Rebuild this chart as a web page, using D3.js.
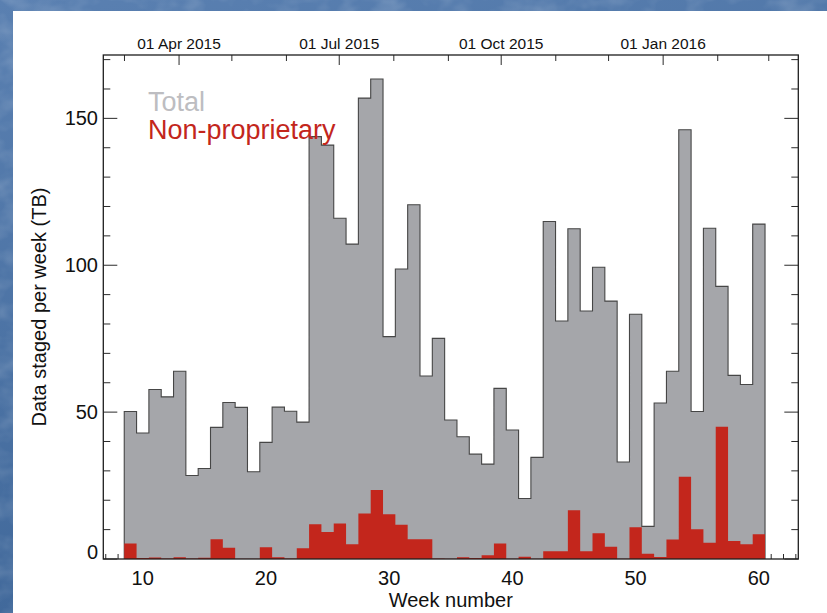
<!DOCTYPE html>
<html>
<head>
<meta charset="utf-8">
<script src="https://cdn.jsdelivr.net/npm/d3@7"></script>
<style>
  html, body { margin: 0; padding: 0; background: #4a70a2; }
  svg { display: block; }
  text { font-family: "Liberation Sans", Arial, Helvetica, sans-serif; }
</style>
</head>
<body>
<svg id="chart" width="827" height="613"></svg>
<script>
// Week numbers (one bar per week)
const weeks = [9, 10, 11, 12, 13, 14, 15, 16, 17, 18, 19, 20, 21, 22, 23, 24, 25, 26, 27, 28,
  29, 30, 31, 32, 33, 34, 35, 36, 37, 38, 39, 40, 41, 42, 43, 44, 45, 46, 47, 48,
  49, 50, 51, 52, 53, 54, 55, 56, 57, 58, 59, 60];

// Total data staged per week (TB)
const totalTB = [50.2, 42.9, 57.7, 55.2, 63.9, 28.4, 30.8, 44.8, 53.3, 51.6, 29.7, 39.7, 51.7, 50.3, 46.6,
  143.8, 140.9, 116.0, 107.2, 156.9, 163.4, 75.7, 98.7, 120.6, 62.3, 75.1,
  47.3, 41.6, 35.7, 32.3, 58.1, 43.9, 20.6, 34.6,
  114.9, 81.0, 112.4, 84.4, 99.3, 87.8, 33.0, 83.3, 11.1, 53.1, 63.9, 146.1, 50.2, 112.6, 92.8, 62.5, 59.4, 114.0];

// Non-proprietary part of it (TB)
const nonPropTB = [5.3, 0.3, 0.5, 0.2, 0.6, 0.2, 0.4, 6.7, 3.8, 0.1, 0.1, 4.0, 0.6, 0.2, 3.7,
  11.8, 9.2, 12.1, 5.0, 15.5, 23.5, 15.2, 11.7, 6.7, 6.7, 0.2,
  0.1, 0.6, 0.3, 1.3, 5.3, 0.1, 0.8, 0.1,
  2.6, 2.6, 16.6, 2.6, 8.8, 4.2, 0.1, 10.8, 1.8, 0.7, 6.6, 28.0, 10.1, 5.5, 45.0, 6.1, 5.0, 8.4];

const seriesNames = ["Total", "Non-proprietary"];
const yMajorTicks = [0, 50, 100, 150];
const xMajorTicks = [10, 20, 30, 40, 50, 60];
const xTitle = "Week number";
const yTitle = "Data staged per week (TB)";

const W = 827, H = 613;
const frame = { left: 103.3, right: 798.3, top: 55, bottom: 559 };
const svg = d3.select("#chart");

// ---- slide background with a soft water-like texture ----
const defs = svg.append("defs");
const grad = defs.append("linearGradient").attr("id", "bgGrad")
  .attr("x1", 0).attr("y1", 0).attr("x2", 0.3).attr("y2", 1);
grad.append("stop").attr("offset", "0%").attr("stop-color", "#5a80b1");
grad.append("stop").attr("offset", "100%").attr("stop-color", "#3f6799");
const tex = defs.append("filter").attr("id", "water")
  .attr("x", 0).attr("y", 0).attr("width", "100%").attr("height", "100%");
tex.append("feTurbulence").attr("type", "fractalNoise")
  .attr("baseFrequency", "0.035 0.05").attr("numOctaves", 3).attr("seed", 7).attr("result", "n");
tex.append("feColorMatrix").attr("type", "matrix")
  .attr("values", "0 0 0 0 1  0 0 0 0 1  0 0 0 0 1  0 0 0 0.9 -0.35");
svg.append("rect").attr("width", W).attr("height", H).attr("fill", "url(#bgGrad)");
svg.append("rect").attr("width", W).attr("height", H).attr("filter", "url(#water)").attr("opacity", 0.35);

// white panel
svg.append("rect").attr("x", 13).attr("y", 11).attr("width", W - 13).attr("height", H - 11)
  .attr("fill", "#ffffff");

// ---- scales ----
const x = d3.scaleLinear().domain([6.8, 63.2]).range([frame.left, frame.right]);
const y = d3.scaleLinear().domain([0, d3.max(totalTB) * 1.05]).range([frame.bottom, frame.top]);

// calendar dates aligned with week numbers (week 0.09 = 1 Jan 2015)
const t0 = Date.UTC(2015, 0, 1);
const weekOfDate = d => 0.09 + (d - t0) / (7 * 864e5);
const dateOfWeek = w => new Date(t0 + (w - 0.09) * 7 * 864e5);
const xt = d3.scaleUtc().domain(x.domain().map(dateOfWeek)).range(x.range());

// step outline points for a series
const stepPoints = vals => weeks.flatMap((w, i) => [[w - 0.5, vals[i]], [w + 0.5, vals[i]]]);

const area = d3.area().x(d => x(d[0])).y0(y(0)).y1(d => y(d[1]));
const line = d3.line().x(d => x(d[0])).y(d => y(d[1]));

const plot = svg.append("g");

// total (grey histogram)
const totalPts = stepPoints(totalTB);
plot.append("path").attr("d", area(totalPts)).attr("fill", "#a5a6aa");
plot.append("path")
  .attr("d", line([[weeks[0] - 0.5, 0], ...totalPts, [weeks[weeks.length - 1] + 0.5, 0]]))
  .attr("fill", "none").attr("stroke", "#464646").attr("stroke-width", 1.1);

// ---- axes ticks ----
const axes = svg.append("g").attr("stroke", "#2a2a2a").attr("stroke-width", 1);

// y ticks: minor every 10, major every 50, on both sides pointing inward
const yMinor = d3.range(0, y.domain()[1], 10);
yMinor.forEach(v => {
  const len = yMajorTicks.includes(v) ? 14 : 7;
  axes.append("line").attr("x1", frame.left).attr("x2", frame.left + len)
    .attr("y1", y(v)).attr("y2", y(v));
  axes.append("line").attr("x1", frame.right).attr("x2", frame.right - len)
    .attr("y1", y(v)).attr("y2", y(v));
});

// bottom ticks: minor every week, major every 10
d3.range(Math.ceil(x.domain()[0]), Math.floor(x.domain()[1]) + 1).forEach(w => {
  const len = xMajorTicks.includes(w) ? 10 : 5;
  axes.append("line").attr("x1", x(w)).attr("x2", x(w))
    .attr("y1", frame.bottom).attr("y2", frame.bottom - len);
});

// top ticks: every month, labelled every quarter
const months = xt.ticks(d3.utcMonth.every(1));
const isQuarter = d => [0, 3, 6, 9].includes(d.getUTCMonth());
months.forEach(d => {
  const len = isQuarter(d) ? 10 : 6;
  axes.append("line").attr("x1", xt(d)).attr("x2", xt(d))
    .attr("y1", frame.top).attr("y2", frame.top + len);
});

// non-proprietary (red histogram) drawn over the ticks
plot.raise();
const red = svg.append("path").attr("d", area(stepPoints(nonPropTB))).attr("fill", "#c3261c");

// frame
svg.append("rect").attr("x", frame.left).attr("y", frame.top)
  .attr("width", frame.right - frame.left).attr("height", frame.bottom - frame.top)
  .attr("fill", "none").attr("stroke", "#1e1e1e").attr("stroke-width", 1.3);

// ---- labels ----
const fmt = d3.utcFormat("%d %b %Y");
months.filter(isQuarter).forEach(d => {
  svg.append("text").attr("x", xt(d)).attr("y", 49).attr("text-anchor", "middle")
    .attr("font-size", 15.5).attr("fill", "#111").text(fmt(d));
});

xMajorTicks.forEach(w => {
  svg.append("text").attr("x", x(w)).attr("y", 585).attr("text-anchor", "middle")
    .attr("font-size", 20).attr("fill", "#111").text(w);
});

yMajorTicks.forEach(v => {
  const base = Math.min(y(v) + 7, frame.bottom);
  svg.append("text").attr("x", 98).attr("y", base).attr("text-anchor", "end")
    .attr("font-size", 20).attr("fill", "#111").text(v);
});

svg.append("text").attr("x", (frame.left + frame.right) / 2).attr("y", 607)
  .attr("text-anchor", "middle").attr("font-size", 20).attr("fill", "#111").text(xTitle);

svg.append("text")
  .attr("transform", `translate(46,${(frame.top + frame.bottom) / 2}) rotate(-90)`)
  .attr("text-anchor", "middle").attr("font-size", 20).attr("fill", "#111").text(yTitle);

// legend
svg.append("text").attr("x", 148).attr("y", 110.5).attr("font-size", 27)
  .attr("fill", "#bdbdc1").text(seriesNames[0]);
svg.append("text").attr("x", 148).attr("y", 139).attr("font-size", 27)
  .attr("fill", "#c3261c").text(seriesNames[1]);
</script>
</body>
</html>
